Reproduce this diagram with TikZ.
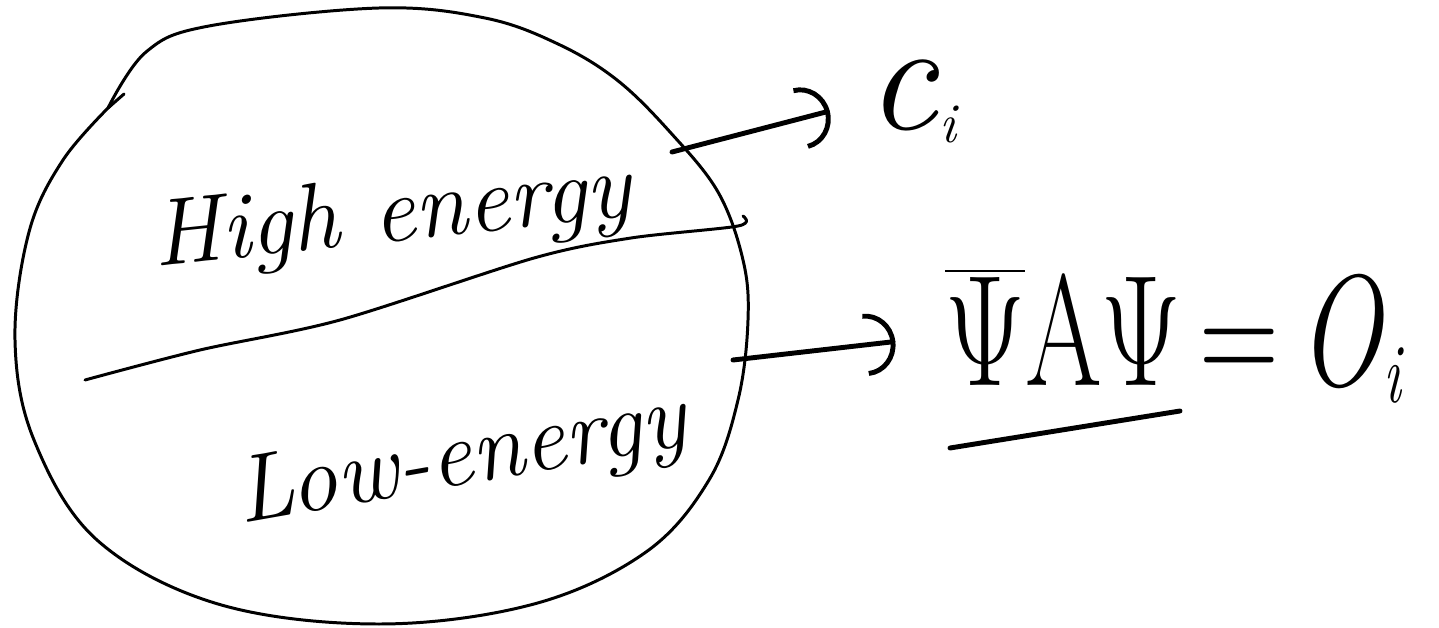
\documentclass[tikz,border=0pt]{standalone}
\usepackage{fontspec}
\usepackage{amsmath}
\usetikzlibrary{arrows.meta,positioning}
\tikzset{
  pen/.style={line width=1.7pt, line cap=round, line join=round},
  inkpen/.style={line width=2.8pt, line cap=round},
  arr/.style={inkpen, -{Arc Barb[length=0.6cm, width=1.25cm, line width=2.8pt]}},
  hand/.style={font=\fontsize{54pt}{60pt}\selectfont\itshape, inner sep=0pt},
  big/.style={font=\fontsize{90pt}{96pt}\selectfont, inner sep=0pt},
}

\begin{document}
\begin{tikzpicture}[x=0.02cm,y=-0.02cm]
  \useasboundingbox (0,0) rectangle (1439,628);
  % the blob and its dividing line
  \draw[pen] plot[smooth, tension=0.6] coordinates {(108,108) (146,52) (209,26) (379,8) (485,18) (558,44) (617,80) (670,132) (718,192) (743,260) (748,320) (738,400) (709,480) (646,552) (534,604) (379,624) (218,604) (97,540) (34,440) (15,340) (29,232) (63,160) (112,104)};
  \draw[pen] (108,108) -- (124,94);
  \draw[pen] plot[smooth] coordinates {(85,380) (200,350) (340,320) (534,258) (631,238) (738,226) (743,216)};

  \node[hand, rotate=6] (high) at (392,218) {High energy};
  \node[hand, rotate=10] (low) at (462,462) {Low-energy};

  \node[big, anchor=base west] (ci) at (866,130) {\textit{c}\raisebox{-7pt}{\fontsize{32pt}{32pt}\selectfont\textit{i}}};
  \node[big, anchor=base west] (oi) at (945,385) {\scalebox{0.7}[1]{$\overline{\text{Ψ}}$AΨ\,=\,\textit{O}\raisebox{-10pt}{\fontsize{48pt}{48pt}\selectfont\textit{i}}}};

  \coordinate (h1) at (672,152);
  \coordinate (l1) at (733,360);
  \draw[arr, shorten >=0.75cm] (h1) -- (ci.west);
  \draw[arr, shorten >=1.0cm] (l1) -- (oi.west);
  \draw[inkpen] (950,448) -- (1180,411);
\end{tikzpicture}
\end{document}
